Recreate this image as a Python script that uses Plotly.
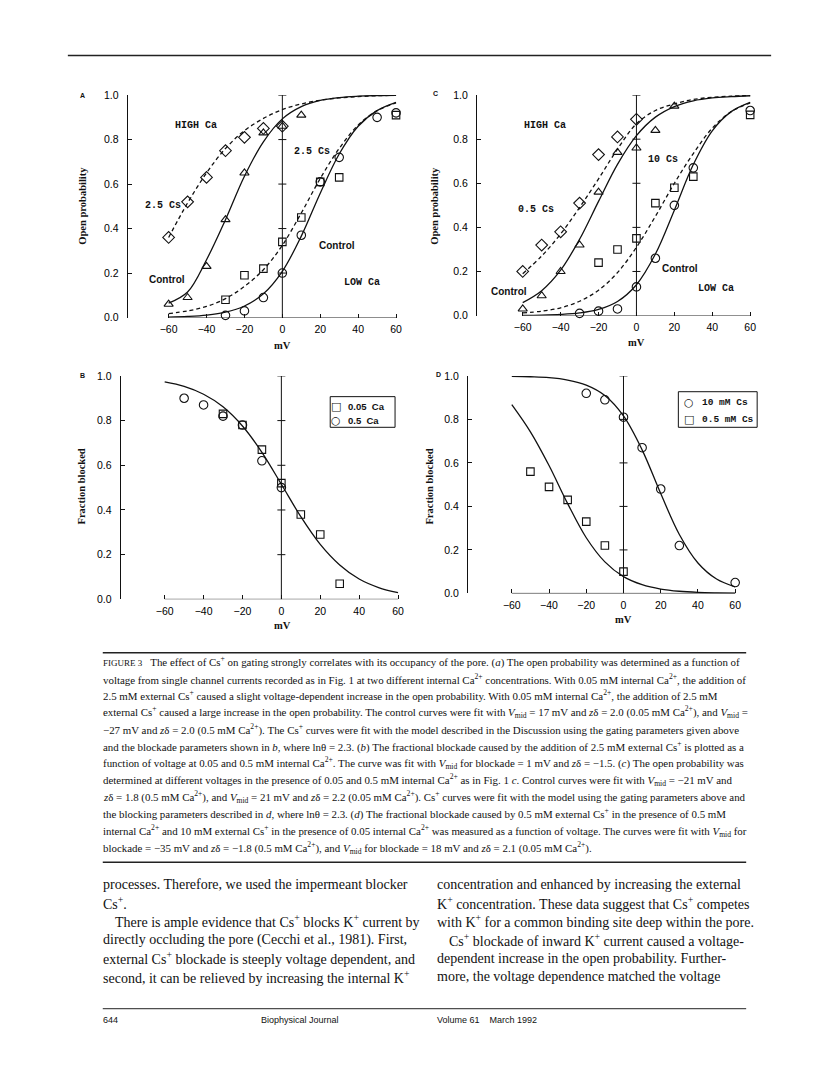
import plotly.graph_objects as go

W, H = 816, 1069

# ---------------- data ----------------
mv_grid = [-60, -50, -40, -30, -20, -10, 0, 10, 20, 30, 40, 50, 60]
x_ticks = [-60, -40, -20, 0, 20, 40, 60]
y_ticks = [0.0, 0.2, 0.4, 0.6, 0.8, 1.0]

# Panel A
a_dia_mv = [-60, -50, -40, -30, -20, -10, 0]
a_dia_p = [0.36, 0.52, 0.63, 0.75, 0.81, 0.85, 0.86]
a_tri_mv = [-60, -50, -40, -30, -20, -10, 0, 10]
a_tri_p = [0.06, 0.09, 0.23, 0.44, 0.65, 0.83, 0.86, 0.91]
a_sq_mv = [-30, -20, -10, 0, 10, 20, 30, 60]
a_sq_p = [0.08, 0.19, 0.22, 0.34, 0.45, 0.61, 0.63, 0.91]
a_ci_mv = [-30, -20, -10, 0, 10, 20, 30, 50, 60]
a_ci_p = [0.01, 0.03, 0.09, 0.20, 0.37, 0.61, 0.72, 0.90, 0.92]
a_high_ctrl = [0.065, 0.115, 0.26, 0.44, 0.635, 0.79, 0.893, 0.948, 0.976, 0.989, 0.995, 0.998, 0.999]
a_high_cs = [0.36, 0.515, 0.65, 0.76, 0.84, 0.895, 0.935, 0.96, 0.977, 0.987, 0.993, 0.997, 0.999]
a_low_ctrl = [0.002, 0.005, 0.011, 0.024, 0.052, 0.107, 0.208, 0.366, 0.559, 0.735, 0.86, 0.93, 0.967]
a_low_cs = [0.018, 0.03, 0.05, 0.085, 0.14, 0.215, 0.325, 0.47, 0.625, 0.76, 0.865, 0.93, 0.965]

# Panel C
c_dia_mv = [-60, -50, -40, -30, -20, -10, 0]
c_dia_p = [0.20, 0.32, 0.38, 0.51, 0.73, 0.81, 0.89]
c_tri_mv = [-60, -50, -40, -30, -20, -10, 0, 10, 20]
c_tri_p = [0.03, 0.09, 0.20, 0.32, 0.56, 0.74, 0.76, 0.84, 0.95]
c_sq_mv = [-20, -10, 0, 10, 20, 30, 60]
c_sq_p = [0.24, 0.30, 0.35, 0.51, 0.58, 0.63, 0.91]
c_ci_mv = [-30, -20, -10, 0, 10, 20, 30, 60]
c_ci_p = [0.01, 0.02, 0.03, 0.13, 0.26, 0.50, 0.67, 0.93]
c_high_ctrl = [0.059, 0.113, 0.206, 0.346, 0.518, 0.686, 0.816, 0.90, 0.948, 0.974, 0.987, 0.993, 0.997]
c_high_cs = [0.19, 0.27, 0.37, 0.49, 0.62, 0.755, 0.87, 0.93, 0.96, 0.98, 0.99, 0.995, 0.998]
c_low_ctrl = [0.001, 0.002, 0.005, 0.012, 0.028, 0.064, 0.14, 0.279, 0.478, 0.685, 0.838, 0.925, 0.967]
c_low_cs = [0.012, 0.02, 0.035, 0.065, 0.115, 0.195, 0.31, 0.45, 0.60, 0.735, 0.85, 0.925, 0.965]

# Panel B
b_sq_mv = [-30, -20, -10, 0, 10, 20, 30]
b_sq_f = [0.83, 0.78, 0.67, 0.52, 0.38, 0.29, 0.07]
b_ci_mv = [-50, -40, -30, -20, -10, 0]
b_ci_f = [0.90, 0.87, 0.82, 0.78, 0.62, 0.50]
b_fit = [0.973, 0.953, 0.918, 0.862, 0.776, 0.658, 0.515, 0.37, 0.246, 0.154, 0.091, 0.053, 0.03]

# Panel D
d_ci_mv = [-20, -10, 0, 10, 20, 30, 60]
d_ci_f = [0.92, 0.89, 0.81, 0.67, 0.48, 0.22, 0.05]
d_sq_mv = [-50, -40, -30, -20, -10, 0]
d_sq_f = [0.56, 0.49, 0.43, 0.33, 0.22, 0.10]
d_fit_10 = [0.998, 0.996, 0.992, 0.981, 0.958, 0.91, 0.816, 0.66, 0.459, 0.271, 0.14, 0.066, 0.03]
d_fit_05 = [0.868, 0.743, 0.588, 0.413, 0.256, 0.145, 0.077, 0.04, 0.02, 0.01, 0.005, 0.0025, 0.001]

# ---------------- helpers ----------------
def px(x):
    return x / W

def py(y):
    return 1 - y / H

fig = go.Figure()

# panel geometry: (axis suffix, left px, right px, top px, bottom px, x range)
panels = {
    "A": ("", 120, 392.8, 82, 307, [-81.6, 62]),
    "C": ("2", 470, 747.8, 82, 305, [-84.2, 62]),
    "B": ("3", 113, 394.9, 366, 592, [-82.6, 62]),
    "D": ("4", 461, 732.7, 366, 586, [-83.6, 62]),
}

tick_font = dict(family="Liberation Sans", size=10.5, color="#000")
shapes = []
annotations = []

for key, (sfx, l, r, t, b, xr) in panels.items():
    xa = "xaxis" + sfx
    ya = "yaxis" + sfx
    xref = "x" + sfx
    yref = "y" + sfx
    fig.layout[xa] = dict(
        domain=[px(l), px(r)], range=xr, anchor=yref,
        showline=False, showgrid=False, zeroline=False,
        tickmode="array", tickvals=x_ticks, ticks="inside", ticklen=4,
        tickwidth=1, tickcolor="#111", tickfont=tick_font, ticklabelstandoff=4,
    )
    fig.layout[ya] = dict(
        domain=[py(b), py(t)], range=[0, 1.0], anchor=xref,
        showline=True, linecolor="#111", linewidth=1,
        showgrid=False, zeroline=False,
        tickmode="array", tickvals=y_ticks, tickformat=".1f",
        ticks="inside", ticklen=4, tickwidth=1, tickcolor="#111",
        tickfont=tick_font, ticklabelstandoff=6,
    )
    # x axis baseline from -60 to 60
    shapes.append(dict(type="line", xref=xref, yref=yref, x0=-60, x1=60, y0=0, y1=0,
                       line=dict(color="#111", width=1)))
    # vertical line at 0 mV with cross ticks
    shapes.append(dict(type="line", xref=xref, yref=yref, x0=0, x1=0, y0=0, y1=1.0,
                       line=dict(color="#111", width=1)))
    for v in y_ticks[1:]:
        shapes.append(dict(type="line", xref=xref, yref=yref, xsizemode="pixel", xanchor=0,
                           x0=-4, x1=4, y0=v, y1=v, line=dict(color="#111", width=1)))


def curve(xs, ys, sfx, dash="solid"):
    fig.add_trace(go.Scatter(
        x=xs, y=ys, mode="lines", line=dict(color="#111", width=1.3, dash=dash, shape="spline"),
        xaxis="x" + sfx, yaxis="y" + sfx, showlegend=False, hoverinfo="skip", cliponaxis=False))


def pts(xs, ys, sfx, symbol, size, name):
    fig.add_trace(go.Scatter(
        x=xs, y=ys, mode="markers", name=name,
        marker=dict(symbol=symbol, size=size, color="#111", line=dict(color="#111", width=1.1)),
        xaxis="x" + sfx, yaxis="y" + sfx, showlegend=False, cliponaxis=False))

DASH = "4px,3px"

# Panel A
curve(mv_grid, a_high_ctrl, "")
curve(mv_grid, a_high_cs, "", DASH)
curve(mv_grid, a_low_ctrl, "")
curve(mv_grid, a_low_cs, "", DASH)
pts(a_dia_mv, a_dia_p, "", "diamond-open", 9, "High Ca, 2.5 Cs")
pts(a_tri_mv, a_tri_p, "", "triangle-up-open", 8, "High Ca, control")
pts(a_sq_mv, a_sq_p, "", "square-open", 7.5, "Low Ca, 2.5 Cs")
pts(a_ci_mv, a_ci_p, "", "circle-open", 8.5, "Low Ca, control")

# Panel C
curve(mv_grid, c_high_ctrl, "2")
curve(mv_grid, c_high_cs, "2", DASH)
curve(mv_grid, c_low_ctrl, "2")
curve(mv_grid, c_low_cs, "2", DASH)
pts(c_dia_mv, c_dia_p, "2", "diamond-open", 9, "High Ca, 0.5 Cs")
pts(c_tri_mv, c_tri_p, "2", "triangle-up-open", 8, "High Ca, control")
pts(c_sq_mv, c_sq_p, "2", "square-open", 7.5, "Low Ca, 10 Cs")
pts(c_ci_mv, c_ci_p, "2", "circle-open", 8.5, "Low Ca, control")

# Panel B
curve(mv_grid, b_fit, "3")
pts(b_sq_mv, b_sq_f, "3", "square-open", 7.5, "0.05 Ca")
pts(b_ci_mv, b_ci_f, "3", "circle-open", 8.5, "0.5 Ca")

# Panel D
curve(mv_grid, d_fit_10, "4")
curve(mv_grid, d_fit_05, "4")
pts(d_ci_mv, d_ci_f, "4", "circle-open", 8.5, "10 mM Cs")
pts(d_sq_mv, d_sq_f, "4", "square-open", 7.5, "0.5 mM Cs")


def ann(x, y, text, size=10, family="Liberation Sans", xanchor="center", angle=0, color="#111", yanchor="middle"):
    annotations.append(dict(x=px(x), y=py(y), xref="paper", yref="paper", text=text,
                            showarrow=False, xanchor=xanchor, yanchor=yanchor, textangle=angle,
                            font=dict(family=family, size=size, color=color)))

MONO = "Liberation Mono"
SERIF = "Liberation Serif"

# panel letters
ann(75, 82, "<b>A</b>", 7)
ann(429, 80, "<b>C</b>", 7)
ann(75, 366, "<b>B</b>", 7)
ann(432, 365, "<b>D</b>", 7)

# axis titles
ann(75, 194, "<b>Open probability</b>", 10.5, SERIF, angle=-90)
ann(428, 194, "<b>Open probability</b>", 10.5, SERIF, angle=-90)
ann(74, 478, "<b>Fraction blocked</b>", 10.5, SERIF, angle=-90)
ann(423, 478, "<b>Fraction blocked</b>", 10.5, SERIF, angle=-90)
ann(275, 335, "<b>mV</b>", 10.5, SERIF)
ann(630, 332, "<b>mV</b>", 10.5, SERIF)
ann(275, 618, "<b>mV</b>", 10.5, SERIF)
ann(617, 612, "<b>mV</b>", 10.5, SERIF)

# panel A labels
ann(188, 113, "<b>HIGH Ca</b>", 10, MONO)
ann(305, 139, "<b>2.5 Cs</b>", 10, MONO)
ann(155, 194, "<b>2.5 Cs</b>", 10, MONO)
ann(330, 234, "<b>Control</b>", 10)
ann(159, 269, "<b>Control</b>", 10)
ann(355, 272, "<b>LOW Ca</b>", 10, MONO)

# panel C labels
ann(538, 113, "<b>HIGH Ca</b>", 10, MONO)
ann(657, 147, "<b>10 Cs</b>", 10, MONO)
ann(529, 198, "<b>0.5 Cs</b>", 10, MONO)
ann(502, 281, "<b>Control</b>", 10)
ann(674, 257, "<b>Control</b>", 10)
ann(710, 278, "<b>LOW Ca</b>", 10, MONO)

# legends (boxes with symbols)
shapes.append(dict(type="rect", xref="paper", yref="paper", x0=px(323), x1=px(388),
                   y0=py(418), y1=py(387), line=dict(color="#111", width=1)))
ann(329, 396.5, "□", 11, "DejaVu Sans", xanchor="center")
ann(339, 396.5, "<b>0.05  Ca</b>", 9.5, xanchor="left")
ann(329, 411, "○", 11, "DejaVu Sans", xanchor="center")
ann(339, 411, "<b>0.5  Ca</b>", 9.5, xanchor="left")

shapes.append(dict(type="rect", xref="paper", yref="paper", x0=px(672), x1=px(751),
                   y0=py(418), y1=py(382), line=dict(color="#111", width=1)))
ann(683, 393, "○", 11, "DejaVu Sans", xanchor="center")
ann(694, 393, "<b>10 mM Cs</b>", 9.5, MONO, xanchor="left")
ann(683, 410, "□", 11, "DejaVu Sans", xanchor="center")
ann(694, 410, "<b>0.5 mM Cs</b>", 9.5, MONO, xanchor="left")

# ---------------- page text ----------------
rule = dict(color="#222", width=1.5)
shapes.append(dict(type="line", xref="paper", yref="paper", x0=px(60), x1=px(765),
                   y0=py(42), y1=py(42), line=rule))
shapes.append(dict(type="line", xref="paper", yref="paper", x0=px(95), x1=px(740),
                   y0=py(646), y1=py(646), line=rule))
shapes.append(dict(type="line", xref="paper", yref="paper", x0=px(95), x1=px(740),
                   y0=py(858), y1=py(858), line=rule))
shapes.append(dict(type="line", xref="paper", yref="paper", x0=px(95), x1=px(740),
                   y0=py(1006), y1=py(1006), line=dict(color="#222", width=1)))

Vm = "<i>V</i><sub>mid</sub>"
zd = "<i>z</i>δ"
Ca = "Ca<sup>2+</sup>"
Cs = "Cs<sup>+</sup>"
caption = [
    "<span style='font-size:9px'>FIGURE 3</span>   The effect of " + Cs + " on gating strongly correlates with its occupancy of the pore. (<i>a</i>) The open probability was determined as a function of",
    "voltage from single channel currents recorded as in Fig. 1 at two different internal " + Ca + " concentrations. With 0.05 mM internal " + Ca + ", the addition of",
    "2.5 mM external " + Cs + " caused a slight voltage-dependent increase in the open probability. With 0.05 mM internal " + Ca + ", the addition of 2.5 mM",
    "external " + Cs + " caused a large increase in the open probability. The control curves were fit with " + Vm + " = 17 mV and " + zd + " = 2.0 (0.05 mM " + Ca + "), and " + Vm + " =",
    "−27 mV and " + zd + " = 2.0 (0.5 mM " + Ca + "). The " + Cs + " curves were fit with the model described in the Discussion using the gating parameters given above",
    "and the blockade parameters shown in <i>b</i>, where lnθ = 2.3. (<i>b</i>) The fractional blockade caused by the addition of 2.5 mM external " + Cs + " is plotted as a",
    "function of voltage at 0.05 and 0.5 mM internal " + Ca + ". The curve was fit with " + Vm + " for blockade = 1 mV and " + zd + " = −1.5. (<i>c</i>) The open probability was",
    "determined at different voltages in the presence of 0.05 and 0.5 mM internal " + Ca + " as in Fig. 1 <i>c</i>. Control curves were fit with " + Vm + " = −21 mV and",
    zd + " = 1.8 (0.5 mM " + Ca + "), and " + Vm + " = 21 mV and " + zd + " = 2.2 (0.05 mM " + Ca + "). " + Cs + " curves were fit with the model using the gating parameters above and",
    "the blocking parameters described in <i>d</i>, where lnθ = 2.3. (<i>d</i>) The fractional blockade caused by 0.5 mM external " + Cs + " in the presence of 0.5 mM",
    "internal " + Ca + " and 10 mM external " + Cs + " in the presence of 0.05 internal " + Ca + " was measured as a function of voltage. The curves were fit with " + Vm + " for",
    "blockade = −35 mV and " + zd + " = −1.8 (0.5 mM " + Ca + "), and " + Vm + " for blockade = 18 mV and " + zd + " = 2.1 (0.05 mM " + Ca + ").",
]
for i, line in enumerate(caption):
    ann(93, 655 + i * 17.1, line, 10.9, SERIF, xanchor="left")

left_col = [
    (93, "processes. Therefore, we used the impermeant blocker"),
    (93, Cs + "."),
    (105, "There is ample evidence that " + Cs + " blocks K<sup>+</sup> current by"),
    (93, "directly occluding the pore (Cecchi et al., 1981). First,"),
    (93, "external " + Cs + " blockade is steeply voltage dependent, and"),
    (93, "second, it can be relieved by increasing the internal K<sup>+</sup>"),
]
right_col = [
    (428, "concentration and enhanced by increasing the external"),
    (428, "K<sup>+</sup> concentration. These data suggest that " + Cs + " competes"),
    (428, "with K<sup>+</sup> for a common binding site deep within the pore."),
    (440, Cs + " blockade of inward K<sup>+</sup> current caused a voltage-"),
    (428, "dependent increase in the open probability. Further-"),
    (428, "more, the voltage dependence matched the voltage"),
]
for i, (x, line) in enumerate(left_col):
    ann(x, 880 + i * 18.7, line, 14, SERIF, xanchor="left")
for i, (x, line) in enumerate(right_col):
    ann(x, 880 + i * 18.7, line, 14, SERIF, xanchor="left")

ann(93, 1017, "644", 9, xanchor="left")
ann(252, 1017, "Biophysical Journal", 9, xanchor="left")
ann(428, 1017, "Volume 61    March 1992", 9, xanchor="left")

fig.update_layout(
    width=W, height=H, margin=dict(l=0, r=0, t=0, b=0),
    paper_bgcolor="white", plot_bgcolor="white",
    shapes=shapes, annotations=annotations, showlegend=False,
)

fig.write_html("out.html")
